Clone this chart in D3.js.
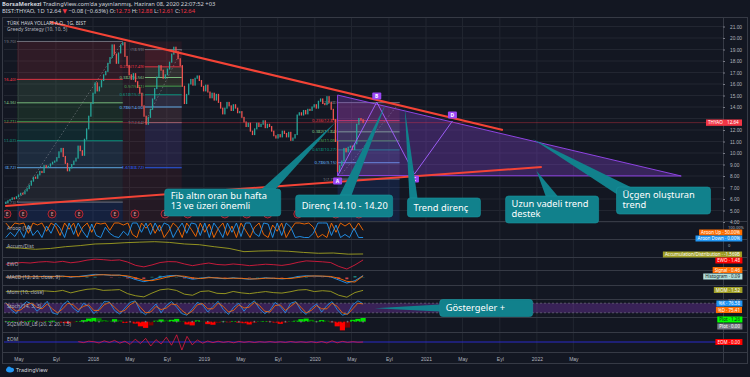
<!DOCTYPE html>
<html lang="en">
<head>
<meta charset="utf-8">
<title>THYAO</title>
<script src="https://d3js.org/d3.v7.min.js"></script>
<style>
  body { margin: 0; background: #131722; }
  svg { display: block; font-family: "Noto Sans", "DejaVu Sans", sans-serif; }
</style>
</head>
<body>
<script>
// ---- data ----
var startDate = "2017-03-20", endDate = "2020-06-08"

// weekly closes, THYAO
var closes = [
  5.70, 5.85, 5.95, 6.10, 6.05, 6.20, 6.35, 6.50, 6.45, 6.70,
  6.90, 7.20, 7.55, 7.90, 7.80, 8.10, 8.40, 8.30, 8.90, 8.75,
  8.85, 9.05, 9.20, 9.30, 9.60, 10.10, 10.40, 9.70, 9.10, 8.45,
  8.70, 9.00, 9.30, 9.55, 10.60, 10.20, 9.80, 11.20, 12.10, 13.20,
  14.30, 15.20, 16.10, 15.40, 15.75, 16.30, 16.80, 17.10, 17.80, 18.30,
  19.40, 18.60, 17.80, 18.70, 19.40, 19.60, 18.40, 17.60, 16.80, 16.40,
  16.90, 16.20, 15.70, 15.20, 14.10, 13.20, 12.50, 13.10, 13.80, 14.70,
  15.60, 16.60, 17.60, 17.20, 16.50, 16.80, 17.30, 17.90, 18.60, 19.20,
  18.80, 18.20, 17.60, 15.80, 14.30, 15.10, 16.00, 16.40, 15.90, 16.50,
  16.70, 16.30, 15.80, 15.40, 15.90, 15.30, 14.80, 15.20, 14.60, 15.10,
  14.40, 13.90, 13.40, 13.90, 14.40, 14.10, 13.70, 14.20, 13.90, 13.50,
  13.60, 13.10, 12.70, 12.30, 12.60, 11.90, 11.60, 12.10, 12.60, 12.30,
  12.50, 12.80, 12.20, 12.50, 12.30, 11.90, 11.50, 11.30, 11.60, 11.40,
  11.90, 11.70, 11.40, 11.80, 11.10, 11.30, 11.60, 13.30, 13.50, 13.30,
  13.70, 13.40, 13.80, 13.70, 14.00, 14.20, 13.90, 14.50, 14.70, 14.30,
  14.20, 14.90, 14.40, 13.80, 12.90, 11.00, 8.40, 8.90, 9.30, 10.40,
  10.10, 10.50, 10.60, 10.30, 10.80, 12.50, 13.00, 12.90, 12.64
]

var priceTicks = [4,5,6,7,8,9,10,11,12,13,14,15,16,17,18,19,20,21]
var timeTicks = ["2017-05-01","2017-09-01","2018-01-01","2018-05-01","2018-09-01","2019-01-01","2019-05-01","2019-09-01",
                 "2020-01-01","2020-05-01","2020-09-01","2021-01-01","2021-05-01","2021-09-01","2022-01-01","2022-05-01"]
var timeLabels = ["May","Eyl","2018","May","Eyl","2019","May","Eyl","2020","May","Eyl","2021","May","Eyl","2022","May"]

var fibRatios = [0, 0.236, 0.382, 0.5, 0.618, 0.786, 1, 1.618]
var fibs = [
  {from: "2017-04-26", to: "2018-04-09", top: 19.70, bottom: 5.73, showRatio: false},
  {from: "2018-06-21", to: "2018-10-20", top: 18.99, bottom: 12.64, showRatio: true},
  {from: "2020-03-16", to: "2020-10-06", top: 14.38, bottom: 7.73, showRatio: true}
]
var shadeZone = {from: "2018-04-09", to: "2018-10-20", top: 19.70, bottom: 4}

var resistance = [["2017-08-13", 21.39], ["2021-09-11", 12.00]]
var support = [["2017-03-18", 5.39], ["2022-01-17", 8.78]]
var triangle = [["2020-03-16", 15.04], ["2023-04-21", 8.00], ["2020-03-16", 8.04]]
var abcdNames = ["A", "B", "C", "D"]
var abcdPoints = [["2020-03-16", 8.00], ["2020-07-23", 14.43], ["2020-11-24", 8.17], ["2021-03-29", 12.78]]

var earnings = ["2017-03-24","2017-05-16","2017-08-19","2017-11-16","2018-03-14","2018-05-19","2018-08-26",
                "2018-11-09","2019-03-11","2019-05-22","2019-07-30","2019-11-06","2020-03-10","2020-05-25"]

var quoteKeys = ["O", "H", "L", "C"]
var quoteVals = ["12.73", "12.88", "12.61", "12.64"]
var lastPrice = 12.64

// indicators (evenly spaced over the same period)
var aroonUp = [100,64,100,93,100,29,100,86,100,43,100,79,14,100,57,100,7,71,100,36,
               100,93,100,50,100,100,86,100,21,0,100,64,100,29,86,0,43,100,71,0,
               100,57,7,100,36,93,0,64,100,14,79,0,100,50,0,71,100,21,0,86,
               43,100,0,57,100,100,93,100,71,0,21,0,100,36,100,79,100,50,100,50]
var aroonDown = [0,36,7,57,0,86,14,50,0,79,29,100,64,0,100,21,100,43,0,93,
                 14,0,71,29,7,0,43,14,100,100,36,100,21,100,43,100,86,0,57,100,
                 29,100,93,14,100,0,100,57,0,100,36,100,7,100,100,29,7,100,93,0,
                 100,14,100,71,0,7,0,0,29,100,100,100,14,86,0,21,0,64,0,0]
var accumDist = [-0.47,-0.55,-0.75,-0.60,-0.30,-0.10,0.18,0.25,0.40,0.50,0.58,0.45,0.18,
                 0.05,-0.30,-0.60,-1.17,-1.05,-1.00,-1.10,-1.30,-1.45,-1.40,-1.60,-1.57]
var ewo = [-0.3,0.1,0.4,0.2,0.6,0.8,0.5,0.9,0.3,0.7,1.4,1.8,1.6,1.3,1.5,0.6,-0.8,-1.4,-0.6,0.4,
           0.8,0.7,-0.2,-0.9,-0.3,0.2,-0.4,-0.6,-0.2,-0.5,-0.9,-0.6,-0.3,-0.5,-0.8,-0.3,0.5,1.1,
           0.9,0.7,0.4,-1.2,-2.3,-0.6,1.48]
var macd = [0.1,0.2,0.25,0.2,0.3,0.35,0.3,0.4,0.1,0.3,0.6,0.9,0.8,0.6,0.7,0.2,-0.6,-1.2,-0.7,0.1,
            0.5,0.6,0.1,-0.5,-0.2,0.1,-0.2,-0.35,-0.1,-0.3,-0.5,-0.3,-0.1,-0.25,-0.4,-0.2,0.3,0.5,
            0.4,0.35,0.2,-0.7,-1.6,-0.9,0.55]
var macdSignal = [0.1,0.15,0.2,0.22,0.25,0.3,0.32,0.35,0.25,0.25,0.4,0.7,0.8,0.7,0.65,0.45,-0.1,-0.8,-0.9,-0.4,
                  0.2,0.5,0.35,-0.1,-0.3,-0.05,-0.1,-0.25,-0.2,-0.25,-0.4,-0.4,-0.2,-0.2,-0.3,-0.3,0.0,0.35,
                  0.45,0.4,0.3,-0.2,-1.1,-1.3,0.46]
var mom = [0.3,0.8,0.6,0.5,1.2,0.9,0.4,1.5,-0.8,1.0,2.5,3.0,1.5,1.8,2.2,-1.5,-3.5,-4.5,-1.0,2.0,
           2.8,1.5,-2.0,-3.0,0.5,1.0,-1.2,-1.5,0.5,-0.8,-1.5,-0.5,0.4,-0.6,-1.0,0.2,1.8,2.2,0.4,
           1.2,0.6,-3.0,-4.8,-0.5,1.52]
var stochK = [85,40,15,60,90,75,30,55,92,20,10,70,95,50,25,80,60,15,45,90,
              88,35,12,50,85,95,30,8,40,75,20,65,90,55,15,5,45,85,70,25,
              60,92,40,10,55,80,30,70,95,45,15,35,85,60,20,80,90,35,10,50,
              75,25,65,90,40,5,15,70,95,76.58]
var stochD = [80,55,30,40,70,80,55,45,75,45,20,45,80,70,40,60,70,35,35,70,
              85,55,25,35,70,90,55,20,25,60,40,50,75,70,35,10,30,70,78,45,
              45,80,60,25,35,70,50,55,85,65,30,25,65,70,35,60,85,55,20,35,
              65,45,45,80,60,20,10,45,80,75.41]
var sqzMom = [0.1,0.2,0.15,-0.1,0.2,0.3,0.1,-0.1,0.2,0.3,0.1,-0.3,-0.5,-0.2,0.2,0.5,1.0,1.4,1.1,0.5,
              0.3,0.8,0.4,-0.4,-0.2,-0.6,-1.5,-2.0,-1.2,0.3,0.7,0.4,0.6,0.9,0.2,-0.9,-1.2,0.4,0.1,-0.8,
              -1.0,-0.4,0.1,-0.2,0.2,-0.3,-0.5,-0.9,-0.4,0.1,0.2,-0.1,-0.3,-0.7,-0.3,0.1,0.3,0.8,1.0,0.6,
              0.2,0.5,0.3,-0.2,-1.5,-2.8,-1.9,0.6,0.9,1.26]
var eom = [null,null,null,null,null,null,null,null,null,null,null,null,null,null,
           0.05,-0.08,0.10,0.04,-0.12,0.15,-0.06,0.20,-0.15,0.10,
           -0.30,0.35,-0.20,0.45,-0.50,0.30,-0.25,0.60,-0.40,0.90,
           -1.00,0.70,-0.35,0.25,-0.15,0.12,-0.08,0.10,-0.05,0.06,
           -0.10,0.08,-0.04,0.05,-0.06,0.04,-0.03,0.05,-0.04,0.03,
           -0.05,0.06,-0.04,0.03,-0.05,0.04,-0.08,0.06,-0.12,0.15,
           -0.10,0.08,-0.05,0.04,-0.03,0.00]

var paneTitles = ["Aroon (14)","Accum/Dist","EWO","MACD (12, 26, close, 9)","Mom (10, close)",
                  "Stoch (14, 3, 3)","SQZMOM_LB (20, 2, 20, 1.5)","EOM"]
var tagNames = ["Aroon Up","Aroon Down","Accumulation/Distribution","EWO","Signal","Histogram",
                "MOM","%K","%D","Plot","Plot","EOM"]
var tagValues = ["50.00%","0.00%","-1.569B","1.48","0.46","0.09","1.52","76.58","75.41","1.26","0.00","0.00"]

// ---- layout ----
var w = 750, h = 377
var plotL = 4, plotR = 723
var mainTop = 18, mainBottom = 221
var paneTops = [221, 239, 257, 270, 285, 299, 317, 332, 352]

var parse = d3.timeParse("%Y-%m-%d")
function spread(n) {
  var a = +parse(startDate), b = +parse(endDate)
  return d3.range(n).map(function(i){ return new Date(a + i * (b - a) / (n - 1)) })
}

var x = d3.scaleTime()
          .domain([parse("2018-01-01"), parse("2021-01-01")])
          .range([93, 426])
var y = d3.scaleLinear().domain([4, 21]).range([222, 26.5])

var svg = d3.select("body").append("svg").attr("width", w).attr("height", h)
svg.append("rect").attr("width", w).attr("height", h).attr("fill", "#131722")

var defs = svg.append("defs")
defs.append("clipPath").attr("id", "mainClip").append("rect")
    .attr("x", plotL).attr("y", mainTop).attr("width", plotR - plotL).attr("height", mainBottom - mainTop)
defs.append("clipPath").attr("id", "indClip").append("rect")
    .attr("x", plotL).attr("y", mainBottom).attr("width", plotR - plotL).attr("height", 352 - mainBottom)

// header
var h1 = svg.append("text").attr("x", 2).attr("y", 6).attr("font-size", 5.8).attr("fill", "#d1d4dc")
h1.append("tspan").attr("font-weight", "bold").text("BorsaMerkezi")
h1.append("tspan").text(" TradingView.com'da yayınlanmış, Haziran 08, 2020 22:07:52 +03")
var h2 = svg.append("text").attr("x", 2).attr("y", 13).attr("font-size", 5.8).attr("fill", "#d1d4dc")
h2.append("tspan").text("BIST:THYAO, 1D  " + lastPrice.toFixed(2) + " ")
h2.append("tspan").attr("fill", "#f23645").text("▼")
h2.append("tspan").text(" −0.08 (−0.63%) ")
quoteKeys.forEach(function(k, i){
  h2.append("tspan").text(k + ":")
  h2.append("tspan").attr("fill", "#f23645").text(quoteVals[i] + " ")
})

// frame
svg.append("rect").attr("x", 2.5).attr("y", 17.5).attr("width", 745).attr("height", 346)
   .attr("fill", "none").attr("stroke", "#363a45")

// grid
var grid = svg.append("g")
grid.selectAll("line.h").data(priceTicks).enter().append("line")
    .attr("x1", plotL).attr("x2", plotR)
    .attr("y1", function(d){ return y(d) }).attr("y2", function(d){ return y(d) })
    .attr("stroke", "#222631")
grid.selectAll("line.v").data(timeTicks).enter().append("line")
    .attr("x1", function(d){ return x(parse(d)) }).attr("x2", function(d){ return x(parse(d)) })
    .attr("y1", mainTop).attr("y2", 352)
    .attr("stroke", "#222631")

// ---- main pane ----
var main = svg.append("g").attr("clip-path", "url(#mainClip)")

main.append("rect")
    .attr("x", x(parse(shadeZone.from))).attr("width", x(parse(shadeZone.to)) - x(parse(shadeZone.from)))
    .attr("y", y(shadeZone.top)).attr("height", y(shadeZone.bottom) - y(shadeZone.top))
    .attr("fill", "#f23645").attr("opacity", 0.08)

var fibColors = ["#787b86","#f23645","#81c784","#4caf50","#089981","#64b5f6","#787b86","#2962ff"]
fibs.forEach(function(f){
  var x0 = x(parse(f.from)), x1 = x(parse(f.to))
  var lv = fibRatios.map(function(r, i){ return {r: r, p: f.top - r * (f.top - f.bottom), c: fibColors[i]} })
  var g = main.append("g")
  g.selectAll("rect").data(lv.slice(1)).enter().append("rect")
    .attr("x", x0).attr("width", x1 - x0)
    .attr("y", function(d, i){ return y(lv[i].p) })
    .attr("height", function(d, i){ return y(d.p) - y(lv[i].p) })
    .attr("fill", function(d){ return d.c }).attr("opacity", 0.13)
  g.selectAll("line").data(lv).enter().append("line")
    .attr("x1", x0).attr("x2", x1)
    .attr("y1", function(d){ return y(d.p) }).attr("y2", function(d){ return y(d.p) })
    .attr("stroke", function(d){ return d.c }).attr("stroke-width", 0.9)
  g.selectAll("text").data(lv).enter().append("text")
    .attr("x", x0 - 1).attr("y", function(d){ return y(d.p) + 1.5 })
    .attr("text-anchor", "end").attr("font-size", 4.3)
    .attr("fill", function(d){ return d.c })
    .text(function(d){ return (f.showRatio && d.r !== 0 ? d.r : "") + "(" + d.p.toFixed(2) + ")" })
  g.append("line")
    .attr("x1", x0).attr("y1", y(f.bottom)).attr("x2", x1).attr("y2", y(f.top))
    .attr("stroke", "#9598a1").attr("stroke-width", 0.7).attr("stroke-dasharray", "1.5,2").attr("opacity", 0.7)
})

// triangle
main.append("polygon")
    .attr("points", triangle.map(function(d){ return x(parse(d[0])) + "," + y(d[1]) }).join(" "))
    .attr("fill", "rgba(142,68,226,0.3)").attr("stroke", "#8e44e2").attr("stroke-width", 1)

// candles
var candles = closes.map(function(c, i){
  return {date: d3.timeDay.offset(parse(startDate), 7 * i), open: i ? closes[i - 1] : c, close: c}
})
main.selectAll("rect.candle").data(candles).enter().append("rect")
    .attr("class", "candle")
    .attr("x", function(d){ return x(d.date) - 0.65 })
    .attr("width", 1.3)
    .attr("y", function(d){ return y(Math.max(d.open, d.close)) - 0.5 })
    .attr("height", function(d){ return Math.max(1, Math.abs(y(d.open) - y(d.close))) + 1 })
    .attr("fill", function(d){ return d.close >= d.open ? "#26a69a" : "#ef5350" })

// last price line
main.append("line").attr("x1", plotL).attr("x2", plotR)
    .attr("y1", y(lastPrice)).attr("y2", y(lastPrice))
    .attr("stroke", "#f23645").attr("stroke-width", 0.8).attr("opacity", 0.45)

// trend lines
var tl = d3.line().x(function(d){ return x(parse(d[0])) }).y(function(d){ return y(d[1]) })
main.append("path").attr("d", tl(resistance)).attr("stroke", "#f44336").attr("stroke-width", 2).attr("fill", "none")
main.append("path").attr("d", tl(support)).attr("stroke", "#f44336").attr("stroke-width", 2).attr("fill", "none")

// ABCD
main.append("path").attr("d", tl(abcdPoints)).attr("stroke", "#9c5cf5").attr("stroke-width", 1).attr("fill", "none")

// earnings markers
var em = main.selectAll("g.e").data(earnings).enter().append("g")
    .attr("transform", function(d){ return "translate(" + x(parse(d)) + ",214)" })
em.append("circle").attr("r", 4).attr("fill", "#2a1b25").attr("stroke", "#c62838").attr("stroke-width", 0.9)
em.append("text").attr("y", 1.8).attr("text-anchor", "middle").attr("font-size", 4.8).attr("fill", "#e8a0a8").text("E")

// ABCD labels
var al = svg.selectAll("g.abcd").data(abcdPoints).enter().append("g")
    .attr("transform", function(d, i){
      return "translate(" + x(parse(d[0])) + "," + (y(d[1]) + (i % 2 ? -6 : 5)) + ")"
    })
al.append("rect").attr("x", -4.5).attr("y", -3.5).attr("width", 9).attr("height", 7).attr("rx", 1).attr("fill", "#9b47f5")
al.append("text").attr("y", 1.8).attr("text-anchor", "middle").attr("font-size", 5).attr("font-weight", "bold")
  .attr("fill", "#fff").text(function(d, i){ return abcdNames[i] })

// ---- indicator panes ----
var ind = svg.append("g").attr("clip-path", "url(#indClip)")
var sc = {
  aroon: d3.scaleLinear().domain([0, 100]).range([237.5, 223]),
  ad: d3.scaleLinear().domain([-2.1, 1.05]).range([257, 239]),
  ewo: d3.scaleLinear().domain([-2.5, 2.5]).range([269.5, 257.5]),
  macd: d3.scaleLinear().domain([-2, 2]).range([284.5, 270.5]),
  mom: d3.scaleLinear().domain([-6, 6]).range([298.5, 285.5]),
  stoch: d3.scaleLinear().domain([0, 100]).range([316, 300]),
  sqz: d3.scaleLinear().domain([-3, 1.5]).range([331, 317]),
  eom: d3.scaleLinear().domain([-1, 1]).range([350, 334])
}
function drawLine(vals, ys, color, wdt){
  var dates = spread(vals.length)
  var ln = d3.line().defined(function(d){ return d != null })
             .x(function(d, i){ return x(dates[i]) }).y(function(d){ return ys(d) })
  ind.append("path").attr("d", ln(vals)).attr("fill", "none").attr("stroke", color).attr("stroke-width", wdt || 1)
}

// stoch band
ind.append("rect").attr("x", plotL).attr("width", plotR - plotL)
   .attr("y", sc.stoch(80)).attr("height", sc.stoch(20) - sc.stoch(80))
   .attr("fill", "rgba(140,60,200,0.32)")
ind.selectAll("line.sb").data([80, 20]).enter().append("line")
   .attr("x1", plotL).attr("x2", plotR)
   .attr("y1", function(d){ return sc.stoch(d) }).attr("y2", function(d){ return sc.stoch(d) })
   .attr("stroke", "#787b86").attr("stroke-width", 0.6).attr("stroke-dasharray", "2,2")

drawLine(aroonUp, sc.aroon, "#ff6d00", 0.9)
drawLine(aroonDown, sc.aroon, "#2196f3", 0.9)
drawLine(accumDist, sc.ad, "#a0a020", 0.9)
drawLine(ewo, sc.ewo, "#d81b3c", 0.9)

// macd histogram
var md = spread(macd.length)
ind.selectAll("rect.mh").data(macd).enter().append("rect")
   .attr("x", function(d, i){ return x(md[i]) - 1.5 }).attr("width", 3)
   .attr("y", function(d, i){ return Math.min(sc.macd(0), sc.macd(d - macdSignal[i])) })
   .attr("height", function(d, i){ return Math.abs(sc.macd(d - macdSignal[i]) - sc.macd(0)) })
   .attr("fill", function(d, i){ return d - macdSignal[i] >= 0 ? "#26a69a" : "#ff5252" }).attr("opacity", 0.8)
drawLine(macd, sc.macd, "#2196f3", 0.9)
drawLine(macdSignal, sc.macd, "#ff6d00", 0.9)

drawLine(mom, sc.mom, "#a0a020", 0.9)
drawLine(stochK, sc.stoch, "#2196f3", 0.8)
drawLine(stochD, sc.stoch, "#ff6d00", 0.8)

// squeeze momentum
var sd = spread(sqzMom.length)
var step = x(sd[1]) - x(sd[0])
ind.selectAll("rect.sq").data(sqzMom).enter().append("rect")
   .attr("x", function(d, i){ return x(sd[i]) - step / 2 }).attr("width", step)
   .attr("y", function(d){ return Math.min(sc.sqz(0), sc.sqz(d)) })
   .attr("height", function(d){ return Math.abs(sc.sqz(d) - sc.sqz(0)) })
   .attr("fill", function(d, i){
     var prev = i ? sqzMom[i - 1] : d
     if (d >= 0) return d >= prev ? "#00e600" : "#008000"
     return d <= prev ? "#ff0000" : "#800000"
   })
ind.selectAll("circle.sq").data(sqzMom).enter().append("circle")
   .attr("cx", function(d, i){ return x(sd[i]) }).attr("cy", sc.sqz(0)).attr("r", 0.9)
   .attr("fill", function(d, i){ return i % 3 ? "#1a1a1a" : "#6b6e78" })

// EOM
ind.append("line").attr("x1", plotL).attr("x2", plotR).attr("y1", sc.eom(0)).attr("y2", sc.eom(0))
   .attr("stroke", "#2b2bc8").attr("stroke-width", 1)
drawLine(eom, sc.eom, "#ff1744", 0.7)

// pane separators
svg.selectAll("line.sep").data(paneTops).enter().append("line")
   .attr("x1", 3).attr("x2", 747)
   .attr("y1", function(d){ return d + 0.5 }).attr("y2", function(d){ return d + 0.5 })
   .attr("stroke", "#363a45")
svg.append("line").attr("x1", plotR + 0.5).attr("x2", plotR + 0.5).attr("y1", 18).attr("y2", 363).attr("stroke", "#363a45")

// pane titles
svg.selectAll("text.pt").data(paneTitles).enter().append("text")
   .attr("x", 7).attr("y", function(d, i){ return paneTops[i] + 9 })
   .attr("font-size", 5).attr("fill", "#b2b5be").text(function(d){ return d })
svg.append("text").attr("x", 7).attr("y", 25).attr("font-size", 4.9).attr("fill", "#d1d4dc").text("TÜRK HAVA YOLLARI A.O., 1G, BIST")
svg.append("text").attr("x", 7).attr("y", 31).attr("font-size", 4.9).attr("fill", "#b2b5be").text("Greedy Strategy (10, 10, 5)")

// axes (the tick hidden behind the last-price tag is left out)
var axisTicks = priceTicks.filter(function(d){ return Math.abs(y(d) - y(lastPrice)) > 5 })
var yAxis = d3.axisRight(y).tickValues(axisTicks).tickFormat(d3.format(".2f")).tickSize(2)
var ya = svg.append("g").attr("transform", "translate(" + plotR + ",0)").call(yAxis)
ya.select(".domain").remove()
ya.selectAll("line").attr("stroke", "#787b86")
ya.selectAll("text").attr("font-size", 4.8).attr("fill", "#b2b5be").attr("x", 7)

var xAxis = d3.axisBottom(x).tickValues(timeTicks.map(parse))
              .tickFormat(function(d, i){ return timeLabels[i] }).tickSize(0)
var xa = svg.append("g").attr("transform", "translate(0,354)").call(xAxis)
xa.select(".domain").remove()
xa.selectAll("text").attr("font-size", 5).attr("fill", "#b2b5be")

var sideLabels = [["100.00%", 228.6], ["0", 246.5], ["100.00", 301.5]]
svg.selectAll("text.sl").data(sideLabels).enter().append("text")
   .attr("x", 728).attr("y", function(d){ return d[1] }).attr("font-size", 4)
   .attr("fill", "#b2b5be").text(function(d){ return d[0] })

// price tag
var ptY = y(lastPrice)
svg.append("rect").attr("x", 706).attr("y", ptY - 3.2).attr("width", 36).attr("height", 6.4).attr("fill", "#f23645")
svg.append("text").attr("x", 708).attr("y", ptY + 1.7).attr("font-size", 4.6).attr("fill", "#fff").text("THYAO")
svg.append("text").attr("x", 727).attr("y", ptY + 1.7).attr("font-size", 4.6).attr("fill", "#fff").text(lastPrice.toFixed(2))

// indicator value tags
var tagStyle = [
  {y: 232.5, c: "#ff6d00", t: "#fff"}, {y: 238.5, c: "#2196f3", t: "#fff"},
  {y: 254.5, c: "#9e9d24", t: "#fff"}, {y: 260.5, c: "#ff0000", t: "#fff"},
  {y: 270, c: "#ff6d00", t: "#fff"}, {y: 276.5, c: "#b2dfdb", t: "#131722"},
  {y: 290, c: "#9e9d24", t: "#fff"}, {y: 303.5, c: "#2196f3", t: "#fff"},
  {y: 310, c: "#ff6d00", t: "#fff"}, {y: 319.5, c: "#00ff00", t: "#131722"},
  {y: 326.5, c: "#787b86", t: "#fff"}, {y: 342, c: "#ff0000", t: "#fff"}
]
tagNames.forEach(function(n, i){
  var s = tagStyle[i]
  var g = svg.append("g")
  var t = g.append("text").attr("x", 740).attr("y", s.y + 1.6).attr("text-anchor", "end")
           .attr("font-size", 4.5).attr("fill", s.t).text(n + " · " + tagValues[i])
  var bb = t.node().getBBox()
  g.insert("rect", "text").attr("x", bb.x - 2).attr("y", s.y - 3).attr("width", bb.width + 4).attr("height", 6).attr("fill", s.c)
})

// ---- callouts ----
var callouts = [
  {lines: ["Fib altın oran bu hafta", "13 ve üzeri önemli"], at: ["2018-08-25", 6.87], w: 116, h: 27,
   tip: ["2020-03-10", 12.70], base: [[97, 0], [111, 0]]},
  {lines: ["Direnç 14.10 - 14.20"], at: ["2019-10-30", 6.35], w: 97, h: 22,
   tip: ["2020-08-21", 14.26], base: [[44, 0], [56, 0]]},
  {lines: ["Trend direnç"], at: ["2020-11-01", 6.09], w: 73, h: 19,
   tip: ["2020-10-23", 13.91], base: [[2, 0], [10, 0]]},
  {lines: ["Uzun vadeli trend", "destek"], at: ["2021-09-20", 6.26], w: 93, h: 27,
   tip: ["2021-12-31", 8.43], base: [[40, 0], [52, 0]]},
  {lines: ["Üçgen oluşturan", "trend"], at: ["2022-09-20", 7.04], w: 94, h: 27,
   tip: ["2021-12-18", 11.22], base: [[0, 7], [14, 0]]},
  {lines: ["Göstergeler +"], at: ["2021-02-15", 103], w: 93, h: 17, pane: "stoch",
   tip: ["2020-07-16", 48], base: [[0, 5], [0, 12]]}
]
callouts.forEach(function(c){
  var ys = c.pane ? sc[c.pane] : y
  var bx = x(parse(c.at[0])), by = ys(c.at[1])
  var tx = x(parse(c.tip[0])), ty = ys(c.tip[1])
  var g = svg.append("g")
  g.append("polygon")
   .attr("points", [[tx, ty], [bx + c.base[0][0], by + c.base[0][1]], [bx + c.base[1][0], by + c.base[1][1]]].join(" "))
   .attr("fill", "#11818c")
  g.append("rect").attr("x", bx).attr("y", by).attr("width", c.w).attr("height", c.h).attr("rx", 3)
   .attr("fill", "#11818c").attr("stroke", "#1a95a0").attr("stroke-width", 0.6)
  g.selectAll("text").data(c.lines).enter().append("text")
   .attr("x", bx + 6)
   .attr("y", function(d, i){ return c.lines.length > 1 ? by + 10.5 + i * 10 : by + c.h / 2 + 3.4 })
   .attr("font-size", 9.3).attr("fill", "#ffffff").text(function(d){ return d })
})

// logo
var logo = svg.append("g").attr("transform", "translate(6,370)")
logo.append("ellipse").attr("cx", 4).attr("cy", 0).attr("rx", 4).attr("ry", 2.4).attr("fill", "#2196f3")
logo.append("circle").attr("cx", 3).attr("cy", -1.5).attr("r", 2).attr("fill", "#2196f3")
logo.append("text").attr("x", 10).attr("y", 2).attr("font-size", 5.5).attr("fill", "#d1d4dc").text("TradingView")
</script>
</body>
</html>
